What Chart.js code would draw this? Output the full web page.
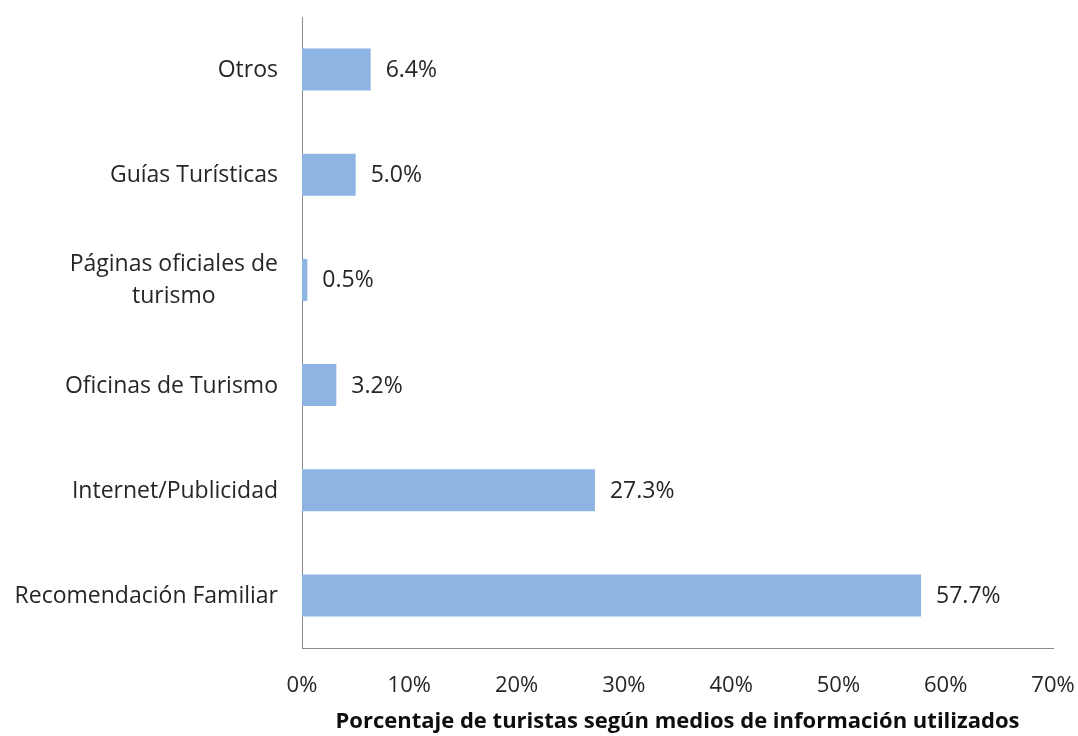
<!DOCTYPE html>
<html>
<head>
<meta charset="utf-8">
<script src="https://cdn.jsdelivr.net/npm/chart.js@4.4.0/dist/chart.umd.min.js"></script>
<style>
  html, body { margin: 0; padding: 0; background: #fff; }
  #wrap { width: 1078px; height: 736px; }
</style>
</head>
<body>
<div id="wrap"><canvas id="chart"></canvas></div>
<script>
// Data
const categories = [
    ['Otros'],
    ['Guías Turísticas'],
    ['Páginas oficiales de', 'turismo'],
    ['Oficinas de Turismo'],
    ['Internet/Publicidad'],
    ['Recomendación Familiar']
];
const values = [6.4, 5.0, 0.5, 3.2, 27.3, 57.7];
const xMin = 0;
const xMax = 70;
const xStep = 10;
const axisTitle = 'Porcentaje de turistas según medios de información utilizados';

const FONT = '"Open Sans", sans-serif';
const TEXT = '#262626';

// value labels next to bars and category labels (centred multi-line) on the left
const labelPlugin = {
    id: 'barLabels',
    afterDatasetsDraw(chart) {
        const ctx = chart.ctx;
        const meta = chart.getDatasetMeta(0);
        const left = chart.chartArea.left;
        ctx.save();
        ctx.fillStyle = TEXT;
        ctx.textBaseline = 'middle';
        meta.data.forEach(function(bar, i) {
            ctx.font = '23px ' + FONT;
            ctx.textAlign = 'left';
            ctx.fillText(values[i].toFixed(1) + '%', bar.x + 15, bar.y + 1);

            const lines = categories[i];
            const widest = Math.max.apply(null, lines.map(l => ctx.measureText(l).width));
            const cx = left - 24 - widest / 2;
            ctx.textAlign = 'center';
            lines.forEach(function(line, k) {
                ctx.fillText(line, cx, bar.y + 1 + (k - (lines.length - 1) / 2) * 32);
            });
        });
        ctx.restore();
    }
};

new Chart(document.getElementById('chart'), {
    type: 'bar',
    data: {
        labels: categories,
        datasets: [{
            data: values,
            backgroundColor: '#8eb4e3',
            borderWidth: 0,
            barPercentage: 0.4,
            categoryPercentage: 1
        }]
    },
    options: {
        indexAxis: 'y',
        responsive: true,
        maintainAspectRatio: false,
        animation: false,
        layout: {
            padding: { top: 17, right: 25, bottom: 0, left: 0 }
        },
        scales: {
            y: {
                ticks: { display: false },
                grid: { display: false },
                border: { display: true, color: '#8a8a8a', width: 1 },
                afterFit: function(scale) { scale.width = 302; }
            },
            x: {
                min: xMin,
                max: xMax,
                ticks: {
                    stepSize: xStep,
                    padding: 25,
                    color: TEXT,
                    font: { family: FONT, size: 22 },
                    maxRotation: 0,
                    callback: v => v + '%'
                },
                grid: { display: false, drawTicks: false },
                border: { display: true, color: '#8a8a8a', width: 1 },
                title: {
                    display: true,
                    text: axisTitle,
                    color: '#0d0d0d',
                    font: { family: FONT, size: 22, weight: 'bold' },
                    padding: { top: 6, bottom: 1 }
                },
                afterFit: function(scale) {
                    scale.height = 88;
                    scale.paddingLeft = 0;
                    scale.paddingRight = 0;
                }
            }
        },
        plugins: {
            legend: { display: false },
            tooltip: { enabled: false }
        }
    },
    plugins: [labelPlugin]
});
</script>
</body>
</html>
